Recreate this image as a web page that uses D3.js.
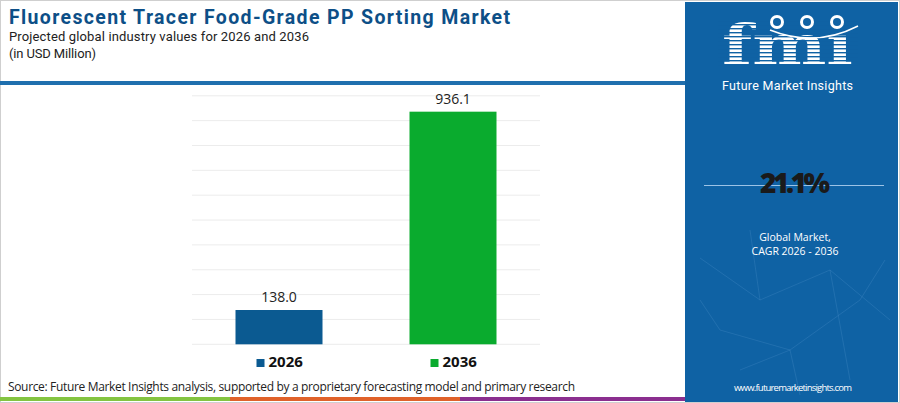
<!DOCTYPE html>
<html lang="en">
<head>
<meta charset="UTF-8">
<title>Fluorescent Tracer Food-Grade PP Sorting Market</title>
<script src="https://d3js.org/d3.v7.min.js"></script>
<style>
    body { margin: 0; background: #fff; }
    svg { display: block; font-family: "Open Sans", "Noto Sans", sans-serif; }
</style>
</head>
<body>
<svg id="chart" width="900" height="403"></svg>
<script>
    // chart data
    const years = ["2026", "2036"];
    const values = [138.0, 936.1];
    const barColors = ["#0b5a91", "#0aab2e"];
    const yTicks = [0, 100, 200, 300, 400, 500, 600, 700, 800, 900, 1000];
    const cagrText = "21.1%";

    const svg = d3.select("#chart");

    // outer border
    svg.append("rect").attr("x", 0.5).attr("y", 0.5).attr("width", 899).attr("height", 402)
        .attr("fill", "#fff").attr("stroke", "#cfcfcf");

    // header
    const head = svg.append("g").attr("font-family", "Roboto, sans-serif");
    head.append("text").attr("x", 9).attr("y", 24)
        .attr("font-size", 19.5).attr("font-weight", 700).attr("fill", "#0d4f87")
        .attr("textLength", 501)
        .text("Fluorescent Tracer Food-Grade PP Sorting Market");
    head.append("text").attr("x", 9).attr("y", 41)
        .attr("font-size", 13).attr("fill", "#222")
        .attr("textLength", 300)
        .text("Projected global industry values for 2026 and 2036");
    head.append("text").attr("x", 9).attr("y", 58)
        .attr("font-size", 13).attr("fill", "#222")
        .attr("textLength", 87)
        .text("(in USD Million)");
    svg.append("rect").attr("x", 0).attr("y", 81).attr("width", 686).attr("height", 4)
        .attr("fill", "#1f6fae");

    // plot
    const x = d3.scaleBand().domain(years).range([192, 540]).paddingInner(0.5).paddingOuter(0.25);
    const y = d3.scaleLinear().domain([0, 1000]).range([344.3, 95.8]);

    svg.append("g").selectAll("line").data(yTicks).join("line")
        .attr("x1", 192).attr("x2", 540)
        .attr("y1", d => y(d)).attr("y2", d => y(d))
        .attr("stroke", "#ececec").attr("stroke-width", 1);

    svg.append("g").selectAll("rect").data(values).join("rect")
        .attr("x", (d, i) => x(years[i]))
        .attr("y", d => y(d))
        .attr("width", x.bandwidth())
        .attr("height", d => y(0) - y(d))
        .attr("fill", (d, i) => barColors[i]);

    svg.append("g").selectAll("text").data(values).join("text")
        .attr("x", (d, i) => x(years[i]) + x.bandwidth() / 2)
        .attr("y", d => y(d) - 8)
        .attr("text-anchor", "middle")
        .attr("font-size", 14).attr("fill", "#222")
        .text(d => d.toFixed(1));

    // legend
    const legend = svg.append("g").selectAll("g").data(years).join("g")
        .attr("transform", (d, i) => `translate(${x(d) + 21},359)`);
    legend.append("rect").attr("width", 8).attr("height", 8)
        .attr("fill", (d, i) => barColors[i]);
    legend.append("text").attr("x", 12).attr("y", 8)
        .attr("font-size", 15).attr("font-weight", 700).attr("fill", "#111")
        .text(d => d);

    // source + color stripes
    svg.append("text").attr("x", 8).attr("y", 391)
        .attr("font-size", 12).attr("fill", "#222")
        .attr("textLength", 567)
        .text("Source: Future Market Insights analysis, supported by a proprietary forecasting model and primary research");
    const stripes = [["#84c441", 0, 230], ["#e0622a", 230, 460], ["#8b2f8f", 460, 686]];
    svg.append("g").selectAll("rect").data(stripes).join("rect")
        .attr("x", d => d[1]).attr("y", 397).attr("width", d => d[2] - d[1]).attr("height", 4)
        .attr("fill", d => d[0]);

    // right panel
    const panel = svg.append("g");
    panel.append("rect").attr("x", 685).attr("y", 2).attr("width", 213).attr("height", 400)
        .attr("fill", "#0f62a4");

    // faint network decoration
    const net = [[700, 258, 760, 300], [760, 300, 830, 270], [830, 270, 890, 320], [720, 330, 790, 350],
                 [790, 350, 860, 300], [750, 230, 760, 300], [830, 270, 850, 380], [700, 300, 720, 330],
                 [790, 350, 800, 395], [860, 300, 885, 260], [740, 370, 790, 350]];
    panel.append("g").selectAll("line").data(net).join("line")
        .attr("x1", d => d[0]).attr("y1", d => d[1]).attr("x2", d => d[2]).attr("y2", d => d[3])
        .attr("stroke", "#5a9ad0").attr("stroke-opacity", 0.3).attr("stroke-width", 0.8);

    // logo
    const logo = panel.append("g");
    logo.append("text").attr("x", 722).attr("y", 65)
        .attr("font-family", "DejaVu Serif").attr("font-weight", 700).attr("font-size", 56)
        .attr("fill", "#fff").attr("textLength", 131).attr("lengthAdjust", "spacingAndGlyphs")
        .text("fmı");
    logo.append("g").selectAll("rect").data(d3.range(20, 66, 4)).join("rect")
        .attr("x", 718).attr("y", d => d).attr("width", 140).attr("height", 1.4)
        .attr("fill", "#0f62a4");
    logo.append("g").selectAll("circle").data([777, 807, 837]).join("circle")
        .attr("cx", d => d).attr("cy", 22).attr("r", 7)
        .attr("fill", "#fff");
    logo.append("g").selectAll("circle").data([777, 807, 837]).join("circle")
        .attr("cx", d => d).attr("cy", 22).attr("r", 4)
        .attr("fill", "#0f62a4");
    logo.append("path").attr("d", "M770,30 Q815,48 858,26")
        .attr("fill", "none").attr("stroke", "#fff").attr("stroke-width", 1.5);
    panel.append("text").attr("x", 722).attr("y", 90)
        .attr("font-family", "Roboto, sans-serif")
        .attr("font-size", 12.5).attr("fill", "#fff").attr("textLength", 131)
        .text("Future Market Insights");

    panel.append("line").attr("x1", 704).attr("x2", 884).attr("y1", 185.5).attr("y2", 185.5)
        .attr("stroke", "#9cc3e6").attr("stroke-width", 1.2);
    panel.append("text").attr("x", 795).attr("y", 193)
        .attr("text-anchor", "middle").attr("font-size", 28).attr("font-weight", 800)
        .attr("fill", "#1a1a1a").attr("textLength", 70)
        .text(cagrText);
    panel.append("text").attr("x", 795).attr("y", 241)
        .attr("text-anchor", "middle").attr("font-size", 10.5).attr("fill", "#fff")
        .text("Global Market,");
    panel.append("text").attr("x", 795).attr("y", 255)
        .attr("text-anchor", "middle").attr("font-size", 10.5).attr("fill", "#fff")
        .text("CAGR 2026 - 2036");
    panel.append("text").attr("x", 793).attr("y", 391)
        .attr("text-anchor", "middle").attr("font-size", 9.5).attr("fill", "#fff")
        .attr("textLength", 118)
        .text("www.futuremarketinsights.com");
</script>
</body>
</html>
